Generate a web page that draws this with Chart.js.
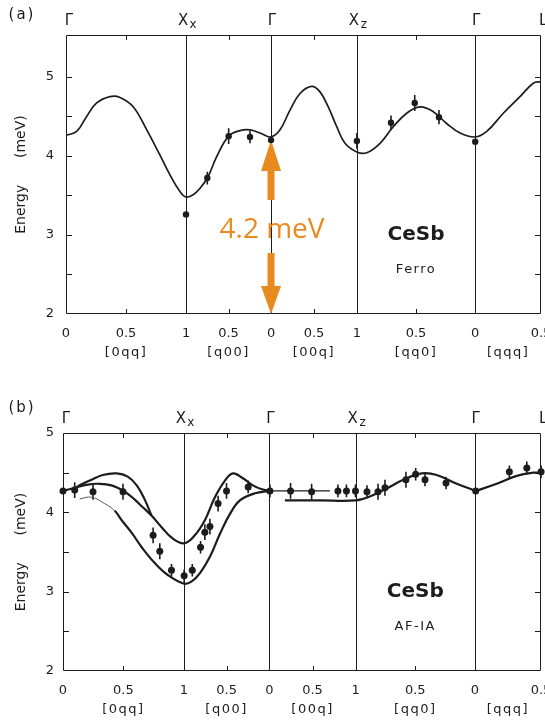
<!DOCTYPE html>
<html>
<head>
<meta charset="utf-8">
<script src="https://cdn.jsdelivr.net/npm/chart.js@4.4.1/dist/chart.umd.min.js"></script>
<style>
  html, body { margin: 0; padding: 0; background: #fff; }
  #wrap { position: relative; width: 545px; height: 722px; }
  #wrap canvas { position: absolute; left: 0; }
</style>
</head>
<body>
<div id="wrap">
  <canvas id="ferroChart" width="545" height="390" style="top:0;width:545px;height:390px"></canvas>
  <canvas id="afChart" width="545" height="332" style="top:390px;width:545px;height:332px"></canvas>
</div>
<script>
const ink = '#1c1c1c';
const orange = '#e98a1f';
const FONT = "'DejaVu Sans', sans-serif";

// path Γ - X_x - Γ - X_z - Γ - L (path length in Γ-X units of [q00])
const symPos = [0, 1.405, 2.40, 3.405, 4.79, 5.56];
const symMain = ['Γ', 'X', 'Γ', 'X', 'Γ', 'L'];
const symSub = ['', 'x', '', 'z', '', ''];
const dirLabels = ['[0qq]', '[q00]', '[00q]', '[qq0]', '[qqq]'];
const qTickPos = [0, 0.7025, 1.405, 1.9025, 2.40, 2.9025, 3.405, 4.0975, 4.79, 5.56];
const qTickLabels = ['0', '0.5', '1', '0.5', '0', '0.5', '1', '0.5', '0', '0.5'];
const qMinor = [0.7025, 1.9025, 2.9025, 4.0975];
const energyTicks = [2, 3, 4, 5];
const energyMinor = [2.5, 3, 3.5, 4, 4.5, 5];

// (a) ferro phase: calculated dispersion
const ferroCurveQ = [0, 0.125, 0.242, 0.359, 0.515, 0.632, 0.788, 0.945, 1.100, 1.217, 1.334, 1.405,
  1.490, 1.569, 1.659, 1.764, 1.904, 2.037, 2.154, 2.271, 2.40,
  2.505, 2.622, 2.739, 2.876, 2.973, 3.070, 3.169, 3.266, 3.405, 3.52,
  3.676, 3.831, 3.988, 4.144, 4.299, 4.456, 4.612, 4.79,
  4.925, 5.119, 5.314, 5.470, 5.56];
const ferroCurveE = [4.26, 4.31, 4.50, 4.67, 4.75, 4.74, 4.62, 4.33, 4.01, 3.76, 3.55, 3.48,
  3.51, 3.59, 3.73, 3.99, 4.25, 4.32, 4.33, 4.29, 4.24,
  4.33, 4.58, 4.79, 4.88, 4.81, 4.62, 4.37, 4.16, 4.05, 4.04,
  4.16, 4.37, 4.54, 4.62, 4.56, 4.41, 4.29, 4.24,
  4.31, 4.54, 4.75, 4.92, 4.94];
// (a) measured energies
const ferroObsQ = [1.405, 1.654, 1.904, 2.154, 2.40, 3.405, 3.804, 4.082, 4.366, 4.79];
const ferroObsE = [3.26, 3.72, 4.25, 4.24, 4.20, 4.19, 4.42, 4.67, 4.49, 4.18];
const ferroObsErr = [0, 0.08, 0.1, 0.08, 0, 0.1, 0.09, 0.1, 0.09, 0];
// gap marked at Γ
const gapLabel = '4.2 meV';
const gapQ = 2.40;
const gapFrom = 2;
const gapTo = 4.2;

// (b) AF-IA phase: calculated branches
const afUpperQ = [0, 0.136, 0.288, 0.404, 0.563, 0.718, 0.835, 0.931, 1.029, 1.149, 1.265, 1.409,
  1.533, 1.650, 1.767, 1.884, 1.977, 2.093, 2.209, 2.314, 2.407];
const afUpperE = [4.27, 4.31, 4.35, 4.36, 4.34, 4.26, 4.16, 4.06, 3.96, 3.81, 3.68, 3.61,
  3.71, 3.90, 4.19, 4.40, 4.49, 4.43, 4.34, 4.29, 4.27];
const afPeakQ = [0.171, 0.311, 0.462, 0.625, 0.753, 0.858, 0.951, 1.029];
const afPeakE = [4.33, 4.40, 4.47, 4.49, 4.45, 4.34, 4.16, 3.96];
const afLowerQ = [0.194, 0.334, 0.485, 0.602, 0.683, 0.800, 0.916, 1.068, 1.219, 1.409,
  1.498, 1.591, 1.709, 1.826, 1.942, 2.058, 2.232, 2.407];
const afLowerE = [4.17, 4.19, 4.11, 4.02, 3.90, 3.74, 3.56, 3.36, 3.21, 3.10,
  3.13, 3.23, 3.44, 3.73, 3.98, 4.15, 4.24, 4.27];
const afFlatQ = [2.407, 3.105];
const afFlatE = [4.27, 4.27];
const afZQ = [2.581, 2.989, 3.404, 3.570, 3.765, 3.958, 4.172, 4.347, 4.580, 4.801];
const afZE = [4.15, 4.15, 4.15, 4.20, 4.30, 4.41, 4.49, 4.47, 4.36, 4.27];
const afLQ = [4.801, 5.045, 5.278, 5.471, 5.561];
const afLE = [4.27, 4.36, 4.46, 4.50, 4.50];
// (b) measured energies
const afObsQ = [0, 0.136, 0.349, 0.698, 1.048, 1.126, 1.262, 1.409, 1.504, 1.600, 1.650, 1.709,
  1.804, 1.902, 2.154, 2.407, 2.647, 2.892, 3.198, 3.297, 3.402, 3.536, 3.664, 3.745,
  3.989, 4.102, 4.211, 4.455, 4.801, 5.192, 5.395, 5.561];
const afObsE = [4.27, 4.28, 4.26, 4.26, 3.71, 3.51, 3.27, 3.20, 3.27, 3.56, 3.75, 3.82,
  4.11, 4.27, 4.32, 4.27, 4.27, 4.26, 4.27, 4.27, 4.27, 4.26, 4.26, 4.31,
  4.41, 4.48, 4.41, 4.37, 4.27, 4.51, 4.56, 4.51];
const afObsErr = [0, 0.1, 0.1, 0.1, 0.1, 0.1, 0.08, 0.08, 0.08, 0.08, 0.1, 0.1,
  0.1, 0.1, 0.08, 0.08, 0.1, 0.1, 0.08, 0.08, 0.08, 0.08, 0.1, 0.1,
  0.1, 0.08, 0.08, 0.08, 0, 0.08, 0.08, 0.08];

function curve(qs, es, width, extra) {
  return Object.assign({
    type: 'line',
    data: qs.map((q, i) => ({ x: q, y: es[i] })),
    borderColor: ink,
    borderWidth: width,
    pointRadius: 0,
    tension: 0.4,
    fill: false,
    order: 2
  }, extra || {});
}

function observed(qs, es, r) {
  return {
    type: 'scatter',
    data: qs.map((q, i) => ({ x: q, y: es[i] })),
    pointRadius: r,
    backgroundColor: ink,
    borderWidth: 0,
    clip: false,
    order: 1
  };
}

function arrow(ctx, x, tipY, tailY, headLen, headW, shaftW) {
  const s = Math.sign(tailY - tipY);
  const hb = tipY + s * headLen;
  ctx.beginPath();
  ctx.moveTo(x, tipY);
  ctx.lineTo(x - headW / 2, hb);
  ctx.lineTo(x - shaftW / 2, hb);
  ctx.lineTo(x - shaftW / 2, tailY);
  ctx.lineTo(x + shaftW / 2, tailY);
  ctx.lineTo(x + shaftW / 2, hb);
  ctx.lineTo(x + headW / 2, hb);
  ctx.closePath();
  ctx.fill();
}

// frame, symmetry lines, inner ticks, error bars and all the annotations
function panelDecor(p) {
  return {
    id: 'panelDecor',
    beforeDatasetsDraw(chart) {
      const { ctx, chartArea: a, scales: { x, y } } = chart;
      ctx.save();
      ctx.strokeStyle = ink;
      ctx.lineWidth = 1;
      ctx.beginPath();
      ctx.rect(a.left + 0.5, a.top + 0.5, a.right - a.left - 1, a.bottom - a.top - 1);
      symPos.slice(1, -1).forEach(q => {
        const px = Math.round(x.getPixelForValue(q)) + 0.5;
        ctx.moveTo(px, a.top);
        ctx.lineTo(px, a.bottom);
      });
      qMinor.forEach(q => {
        const px = Math.round(x.getPixelForValue(q)) + 0.5;
        ctx.moveTo(px, a.top);
        ctx.lineTo(px, a.top + 5);
        ctx.moveTo(px, a.bottom);
        ctx.lineTo(px, a.bottom - 5);
      });
      energyMinor.forEach(e => {
        if (e >= y.max) return;
        const py = Math.round(y.getPixelForValue(e)) + 0.5;
        ctx.moveTo(a.left, py);
        ctx.lineTo(a.left + 6, py);
        ctx.moveTo(a.right, py);
        ctx.lineTo(a.right - 6, py);
      });
      ctx.stroke();

      // error bars
      ctx.lineWidth = 1.6;
      ctx.beginPath();
      p.obsQ.forEach((q, i) => {
        if (!p.obsErr[i]) return;
        const px = x.getPixelForValue(q);
        ctx.moveTo(px, y.getPixelForValue(p.obsE[i] - p.obsErr[i]));
        ctx.lineTo(px, y.getPixelForValue(p.obsE[i] + p.obsErr[i]));
      });
      ctx.stroke();

      if (p.gap) {
        const gx = x.getPixelForValue(gapQ);
        const yTop = y.getPixelForValue(gapTo);
        const yBot = y.getPixelForValue(gapFrom);
        const mid = (yTop + yBot) / 2 + 3;
        ctx.fillStyle = orange;
        arrow(ctx, gx, yTop, mid - 30, 31, 20, 7);
        arrow(ctx, gx, yBot, mid + 23, 28, 20, 7);
        ctx.font = "28px 'Open Sans', sans-serif";
        ctx.textAlign = 'center';
        ctx.textBaseline = 'middle';
        ctx.fillText(gapLabel, gx + 1, mid);
      }
      ctx.restore();
    },
    afterDraw(chart) {
      const { ctx, chartArea: a, scales: { x, y } } = chart;
      ctx.save();
      ctx.fillStyle = ink;
      ctx.textBaseline = 'middle';
      ctx.textAlign = 'center';

      ctx.font = `15px ${FONT}`;
      ctx.letterSpacing = '2px';
      ctx.fillText(p.tag, 22, p.tagY);

      // symmetry points along the top
      ctx.letterSpacing = '0px';
      const ty = a.top - 14;
      symPos.forEach((q, i) => {
        const px = x.getPixelForValue(q);
        ctx.font = `15px ${FONT}`;
        if (symSub[i]) {
          ctx.textAlign = 'center';
          ctx.fillText(symMain[i], px - 3, ty);
          ctx.font = `12px ${FONT}`;
          ctx.fillText(symSub[i], px + 7, ty + 4);
        } else if (symMain[i] === 'L') {
          ctx.textAlign = 'left';
          ctx.fillText(symMain[i], px - 2, ty);
        } else {
          ctx.textAlign = 'center';
          ctx.fillText(symMain[i], px + (i === 0 ? 3 : 1), ty);
        }
      });

      // scan directions under the q labels
      ctx.textAlign = 'center';
      ctx.font = `13px ${FONT}`;
      ctx.letterSpacing = '1.5px';
      dirLabels.forEach((d, i) => {
        const px = x.getPixelForValue((symPos[i] + symPos[i + 1]) / 2);
        ctx.fillText(d, px, a.bottom + 39);
      });

      const cx = x.getPixelForValue((symPos[3] + symPos[4]) / 2);
      ctx.letterSpacing = '0px';
      ctx.font = `bold 20px ${FONT}`;
      ctx.fillText('CeSb', cx, y.getPixelForValue(3.0));
      ctx.font = `13px ${FONT}`;
      ctx.letterSpacing = '1.5px';
      ctx.fillText(p.phase, cx, y.getPixelForValue(2.56));
      ctx.restore();
    }
  };
}

function panelChart(id, p) {
  return new Chart(document.getElementById(id), {
    data: { datasets: p.datasets },
    options: {
      responsive: false,
      animation: false,
      layout: { padding: { top: p.top, right: 4, left: 0, bottom: 0 } },
      plugins: { legend: { display: false }, tooltip: { enabled: false } },
      scales: {
        x: {
          type: 'linear',
          min: 0,
          max: 5.56,
          grid: { display: false, drawTicks: false },
          border: { display: false },
          afterBuildTicks: s => { s.ticks = qTickPos.map(v => ({ value: v })); },
          afterFit: s => { s.height = p.xHeight; s.paddingLeft = 0; s.paddingRight = 0; },
          ticks: {
            autoSkip: false,
            maxRotation: 0,
            padding: 12,
            color: ink,
            font: { family: FONT, size: 13 },
            callback: (v, i) => qTickLabels[i]
          }
        },
        y: {
          type: 'linear',
          min: 2,
          max: p.yMax,
          grid: { display: false, drawTicks: false },
          border: { display: false },
          afterBuildTicks: s => { s.ticks = energyTicks.map(v => ({ value: v })); },
          afterFit: s => { s.width = p.left; s.paddingTop = 0; s.paddingBottom = 0; },
          ticks: {
            padding: p.yPad,
            color: ink,
            font: { family: FONT, size: 13 },
            callback: v => String(v)
          },
          title: {
            display: true,
            text: 'Energy      (meV)',
            color: ink,
            font: { family: FONT, size: 14 },
            padding: { top: 13, bottom: 0 }
          }
        }
      }
    },
    plugins: [panelDecor(p)]
  });
}

panelChart('ferroChart', {
  top: 35, left: 66, xHeight: 76, yMax: 5.53, yPad: 12,
  tag: '(a)', tagY: 15, phase: 'Ferro', gap: true,
  obsQ: ferroObsQ, obsE: ferroObsE, obsErr: ferroObsErr,
  datasets: [
    curve(ferroCurveQ, ferroCurveE, 1.7),
    observed(ferroObsQ, ferroObsE, 3.2)
  ]
});

panelChart('afChart', {
  top: 43, left: 63, xHeight: 51, yMax: 5, yPad: 9,
  tag: '(b)', tagY: 18, phase: 'AF-IA', gap: false,
  obsQ: afObsQ, obsE: afObsE, obsErr: afObsErr,
  datasets: [
    curve(afUpperQ, afUpperE, 2.2),
    curve(afPeakQ, afPeakE, 2.2),
    curve(afLowerQ, afLowerE, 2.2, {
      segment: {
        borderWidth: c => (c.p1DataIndex <= 3 ? 1 : 2.2),
        borderColor: c => (c.p1DataIndex <= 3 ? '#555' : ink)
      }
    }),
    curve(afFlatQ, afFlatE, 1.3),
    curve(afZQ, afZE, 2.2),
    curve(afLQ, afLE, 2.2),
    observed(afObsQ, afObsE, 3.5)
  ]
});
</script>
</body>
</html>
